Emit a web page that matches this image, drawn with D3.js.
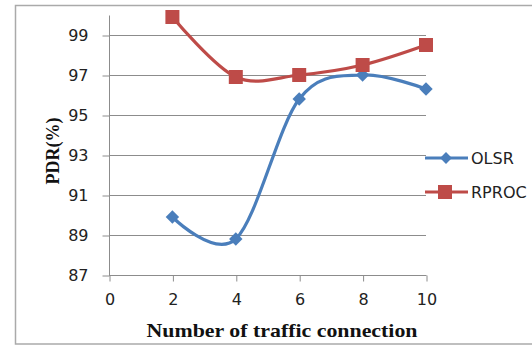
<!DOCTYPE html>
<html>
<head>
<meta charset="utf-8">
<script src="https://cdn.jsdelivr.net/npm/d3@7"></script>
<style>
  html, body { margin: 0; padding: 0; background: #fff; }
  svg { display: block; }
</style>
</head>
<body>
<svg id="chart" width="532" height="346"></svg>
<script>
// Packet delivery ratio vs. number of traffic connections
const connections = [2, 4, 6, 8, 10];
const olsr  = [89.9, 88.8, 95.8, 97.0, 96.3];
const rproc = [99.9, 96.9, 97.0, 97.5, 98.5];
const seriesNames = ["OLSR", "RPROC"];
const seriesColors = ["#4a7ebb", "#be4b48"];
const xTicks = [0, 2, 4, 6, 8, 10];
const yTicks = [87, 89, 91, 93, 95, 97, 99];

const svg = d3.select("#chart");
const labelFont = "DejaVu Sans, Verdana, sans-serif";
const titleFont = "Liberation Serif, Times New Roman, serif";

// outer frame
svg.append("rect")
  .attr("x", 15.5).attr("y", 5.5)
  .attr("width", 600).attr("height", 338.5)
  .attr("fill", "none").attr("stroke", "#aaaaaa").attr("stroke-width", 1.5);

const x = d3.scaleLinear().domain([0, 10]).range([109, 426]);
const y = d3.scaleLinear().domain([87, 100]).range([275, 15]);

// horizontal gridlines
svg.append("g").selectAll("line").data(yTicks).join("line")
  .attr("x1", x(0)).attr("x2", x(10))
  .attr("y1", d => y(d) + 0.5).attr("y2", d => y(d) + 0.5)
  .attr("stroke", "#8c8c8c").attr("stroke-width", 1);

// y axis
const yAxis = svg.append("g")
  .attr("transform", `translate(${x(0) + 0.5},0.5)`)
  .call(d3.axisLeft(y).tickValues(yTicks).tickSize(7).tickPadding(14).tickFormat(d3.format("d")));
yAxis.select(".domain").attr("stroke", "#8c8c8c").attr("d", `M0,${y(100)}V${y(87)}`);
yAxis.selectAll(".tick line").attr("stroke", "#8c8c8c");
yAxis.selectAll(".tick text")
  .attr("font-family", labelFont).attr("font-size", 16).attr("fill", "#222");

// x axis
const xAxis = svg.append("g")
  .attr("transform", `translate(0.5,${y(87) + 0.5})`)
  .call(d3.axisBottom(x).tickValues(xTicks).tickSize(6).tickPadding(12).tickFormat(d3.format("d")));
xAxis.select(".domain").attr("stroke", "#8c8c8c").attr("d", `M${x(0)},0H${x(10)}`);
xAxis.selectAll(".tick line").attr("stroke", "#8c8c8c");
xAxis.selectAll(".tick text")
  .attr("font-family", labelFont).attr("font-size", 16).attr("fill", "#222");

// axis titles
svg.append("text")
  .attr("x", 282).attr("y", 337)
  .attr("text-anchor", "middle")
  .attr("font-family", titleFont).attr("font-weight", "bold").attr("font-size", 19)
  .attr("textLength", 271).attr("lengthAdjust", "spacingAndGlyphs")
  .attr("fill", "#111")
  .text("Number of traffic connection");

svg.append("text")
  .attr("transform", "translate(59,151) rotate(-90)")
  .attr("text-anchor", "middle")
  .attr("font-family", titleFont).attr("font-weight", "bold").attr("font-size", 18)
  .attr("fill", "#111")
  .text("PDR(%)");

// smoothed series lines
const line = d3.line()
  .x((d, i) => x(connections[i]))
  .y(d => y(d))
  .curve(d3.curveCardinal.tension(0));

const seriesData = [olsr, rproc];
seriesData.forEach((vals, s) => {
  svg.append("path")
    .datum(vals)
    .attr("d", line)
    .attr("fill", "none")
    .attr("stroke", seriesColors[s])
    .attr("stroke-width", 3.2)
    .attr("stroke-linejoin", "round");
});

// markers
svg.append("g").selectAll("path").data(olsr).join("path")
  .attr("d", d3.symbol().type(d3.symbolSquare).size(90)())
  .attr("transform", (d, i) => `translate(${x(connections[i])},${y(d)}) rotate(45)`)
  .attr("fill", seriesColors[0]);

svg.append("g").selectAll("rect").data(rproc).join("rect")
  .attr("x", (d, i) => x(connections[i]) - 7)
  .attr("y", d => y(d) - 7)
  .attr("width", 14).attr("height", 14)
  .attr("fill", seriesColors[1]);

// legend
const legend = svg.append("g");
seriesNames.forEach((name, s) => {
  const ly = 158 + s * 34;
  legend.append("line")
    .attr("x1", 425).attr("x2", 468).attr("y1", ly).attr("y2", ly)
    .attr("stroke", seriesColors[s]).attr("stroke-width", 3.2);
  if (s === 0) {
    legend.append("path")
      .attr("d", d3.symbol().type(d3.symbolSquare).size(70)())
      .attr("transform", `translate(446,${ly}) rotate(45)`)
      .attr("fill", seriesColors[s]);
  } else {
    legend.append("rect")
      .attr("x", 438).attr("y", ly - 7).attr("width", 14).attr("height", 14)
      .attr("fill", seriesColors[s]);
  }
  legend.append("text")
    .attr("x", 471).attr("y", ly + 6)
    .attr("font-family", labelFont).attr("font-size", 16).attr("fill", "#222")
    .text(name);
});
</script>
</body>
</html>
